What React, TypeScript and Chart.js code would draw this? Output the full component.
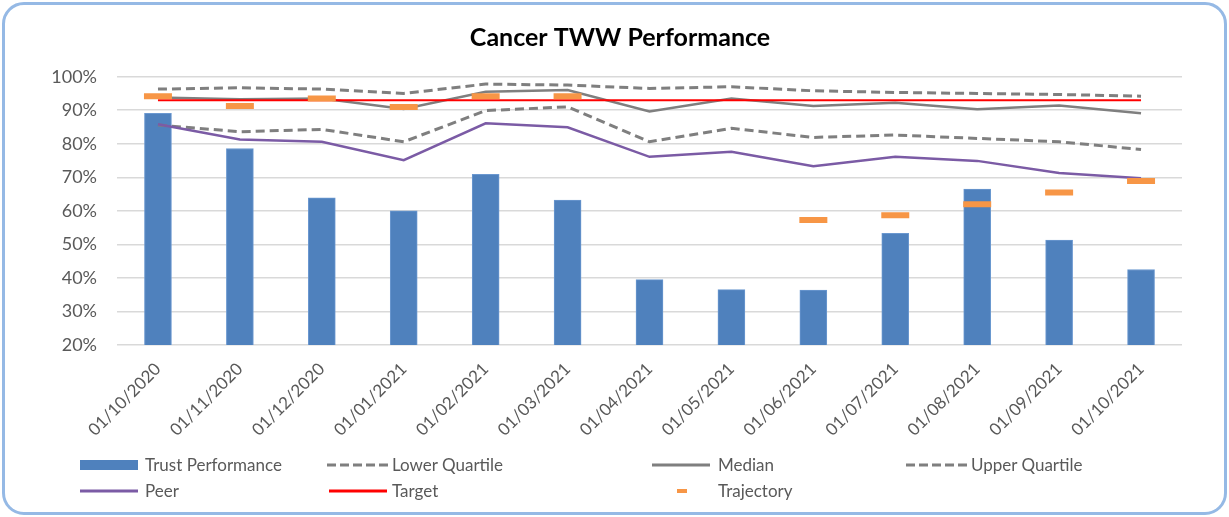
import React, { useEffect, useRef } from "react";
import { Chart, registerables } from "chart.js";

Chart.register(...registerables);

const categories = [
  "01/10/2020", "01/11/2020", "01/12/2020", "01/01/2021", "01/02/2021", "01/03/2021", "01/04/2021",
  "01/05/2021", "01/06/2021", "01/07/2021", "01/08/2021", "01/09/2021", "01/10/2021",
];
const trustPerformance = [89.1, 78.6, 63.9, 60.0, 70.9, 63.2, 39.5, 36.5, 36.4, 53.3, 66.5, 51.3, 42.5];
const lowerQuartile = [85.6, 83.6, 84.3, 80.6, 89.9, 91.0, 80.6, 84.6, 81.9, 82.6, 81.6, 80.6, 78.3];
const median = [93.8, 93.3, 93.5, 90.4, 95.5, 96.0, 89.6, 93.5, 91.3, 92.2, 90.3, 91.4, 89.1];
const upperQuartile = [96.3, 96.7, 96.3, 95.0, 97.8, 97.5, 96.5, 97.0, 95.8, 95.3, 95.0, 94.7, 94.2];
const peer = [85.8, 81.3, 80.6, 75.1, 86.1, 84.9, 76.1, 77.6, 73.3, 76.1, 74.9, 71.3, 69.7];
const target = [93, 93, 93, 93, 93, 93, 93, 93, 93, 93, 93, 93, 93];
const trajectory = [94.2, 91.3, 93.5, 91.0, 94.2, 94.2, null, null, 57.3, 58.7, 62.0, 65.5, 68.9];
const yTicks = [20, 30, 40, 50, 60, 70, 80, 90, 100];

const GRAY = "#7F7F7F";
const TEXT = "#595959";
const FONT = "Lato, 'Open Sans', sans-serif";

function Swatch({ kind, color }: { kind: string; color: string }) {
  if (kind === "bar") {
    return (
      <svg width="58" height="12" style={{ display: "block" }}>
        <rect x="0" y="1" width="58" height="10" fill={color} />
      </svg>
    );
  }
  if (kind === "dash") {
    return (
      <svg width="62" height="12" style={{ display: "block" }}>
        <line x1="0" y1="6" x2="62" y2="6" stroke={color} strokeWidth="3" strokeDasharray="9 4" />
      </svg>
    );
  }
  if (kind === "tick") {
    return (
      <svg width="10" height="12" style={{ display: "block" }}>
        <line x1="0" y1="6" x2="10" y2="6" stroke={color} strokeWidth="4" />
      </svg>
    );
  }
  return (
    <svg width="58" height="12" style={{ display: "block" }}>
      <line x1="0" y1="6" x2="58" y2="6" stroke={color} strokeWidth="3" />
    </svg>
  );
}

const legendItems = [
  { label: "Trust Performance", kind: "bar", color: "#4F81BD", sx: 80, tx: 145, y: 465 },
  { label: "Lower Quartile", kind: "dash", color: GRAY, sx: 327, tx: 392, y: 465 },
  { label: "Median", kind: "line", color: GRAY, sx: 652, tx: 718, y: 465 },
  { label: "Upper Quartile", kind: "dash", color: GRAY, sx: 906, tx: 971, y: 465 },
  { label: "Peer", kind: "line", color: "#7B5BA5", sx: 80, tx: 145, y: 491 },
  { label: "Target", kind: "line", color: "#FF0000", sx: 329, tx: 392, y: 491 },
  { label: "Trajectory", kind: "tick", color: "#F79646", sx: 677, tx: 718, y: 491 },
];

export default function App() {
  const canvasRef = useRef<HTMLCanvasElement | null>(null);

  useEffect(() => {
    if (!canvasRef.current) return;
    Chart.defaults.font.family = FONT;
    Chart.defaults.color = TEXT;
    const chart = new Chart(canvasRef.current, {
      type: "bar",
      data: {
        labels: categories,
        datasets: [
          {
            type: "line",
            label: "Trajectory",
            data: trajectory,
            showLine: false,
            pointStyle: "line",
            pointRadius: 14,
            pointHoverRadius: 14,
            pointBorderWidth: 6,
            pointBorderColor: "#F79646",
            borderColor: "#F79646",
            backgroundColor: "#F79646",
            order: 0,
          },
          {
            type: "line",
            label: "Target",
            data: target,
            borderColor: "#FF0000",
            borderWidth: 2,
            pointRadius: 0,
            order: 1,
          },
          {
            type: "line",
            label: "Median",
            data: median,
            borderColor: GRAY,
            borderWidth: 2.5,
            pointRadius: 0,
            order: 2,
          },
          {
            type: "line",
            label: "Peer",
            data: peer,
            borderColor: "#7B5BA5",
            borderWidth: 2.5,
            pointRadius: 0,
            order: 3,
          },
          {
            type: "line",
            label: "Upper Quartile",
            data: upperQuartile,
            borderColor: GRAY,
            borderWidth: 3,
            borderDash: [9, 5],
            pointRadius: 0,
            order: 4,
          },
          {
            type: "line",
            label: "Lower Quartile",
            data: lowerQuartile,
            borderColor: GRAY,
            borderWidth: 3,
            borderDash: [9, 5],
            pointRadius: 0,
            order: 5,
          },
          {
            type: "bar",
            label: "Trust Performance",
            data: trustPerformance,
            backgroundColor: "#4F81BD",
            borderColor: "#6B98D0",
            borderWidth: 1,
            barThickness: 27,
            order: 6,
          },
        ],
      },
      options: {
        responsive: false,
        animation: false,
        layout: { padding: { top: 6, left: 11, right: 0, bottom: 0 } },
        plugins: {
          legend: { display: false },
          tooltip: { enabled: false },
          title: {
            display: true,
            text: "Cancer TWW Performance",
            color: "#000000",
            font: { family: FONT, size: 25, weight: "bold" },
            padding: { top: 17, bottom: 23.7 },
          },
        },
        scales: {
          x: {
            grid: { display: false },
            border: { display: false },
            ticks: {
              minRotation: 45,
              maxRotation: 45,
              autoSkip: false,
              padding: 6,
              color: TEXT,
              font: { family: FONT, size: 17 },
            },
            afterFit: (scale: any) => {
              scale.height = 172;
            },
          },
          y: {
            min: 20,
            max: 100,
            afterBuildTicks: (scale: any) => {
              scale.ticks = yTicks.map((v) => ({ value: v }));
            },
            grid: { color: "#D9D9D9", lineWidth: 1.5, drawTicks: false },
            border: { display: false },
            ticks: {
              padding: 20,
              color: TEXT,
              font: { family: FONT, size: 18 },
              callback: (v: any) => `${v}%`,
            },
            afterFit: (scale: any) => {
              scale.width = 106;
            },
          },
          yPad: {
            position: "right",
            min: 20,
            max: 100,
            grid: { display: false, drawTicks: false },
            border: { display: false },
            ticks: { display: false },
            afterFit: (scale: any) => {
              scale.width = 47;
            },
          },
        },
      },
    } as any);
    return () => chart.destroy();
  }, []);

  return (
    <div style={{ position: "absolute", left: 0, top: 0, width: 1229, height: 517, background: "#fff", overflow: "hidden" }}>
      <div
        style={{
          position: "absolute",
          left: 2,
          top: 2,
          width: 1225,
          height: 513,
          boxSizing: "border-box",
          border: "3px solid #95B9E5",
          borderRadius: 22,
        }}
      />
      <canvas ref={canvasRef} width={1229} height={517} style={{ position: "absolute", left: 0, top: 0 }} />
      {legendItems.map((it) => (
        <React.Fragment key={it.label}>
          <div style={{ position: "absolute", left: it.sx, top: it.y - 6 }}>
            <Swatch kind={it.kind} color={it.color} />
          </div>
          <div
            style={{
              position: "absolute",
              left: it.tx,
              top: it.y - 11,
              height: 22,
              lineHeight: "22px",
              fontFamily: FONT,
              fontSize: 17,
              color: TEXT,
              whiteSpace: "nowrap",
            }}
          >
            {it.label}
          </div>
        </React.Fragment>
      ))}
    </div>
  );
}
